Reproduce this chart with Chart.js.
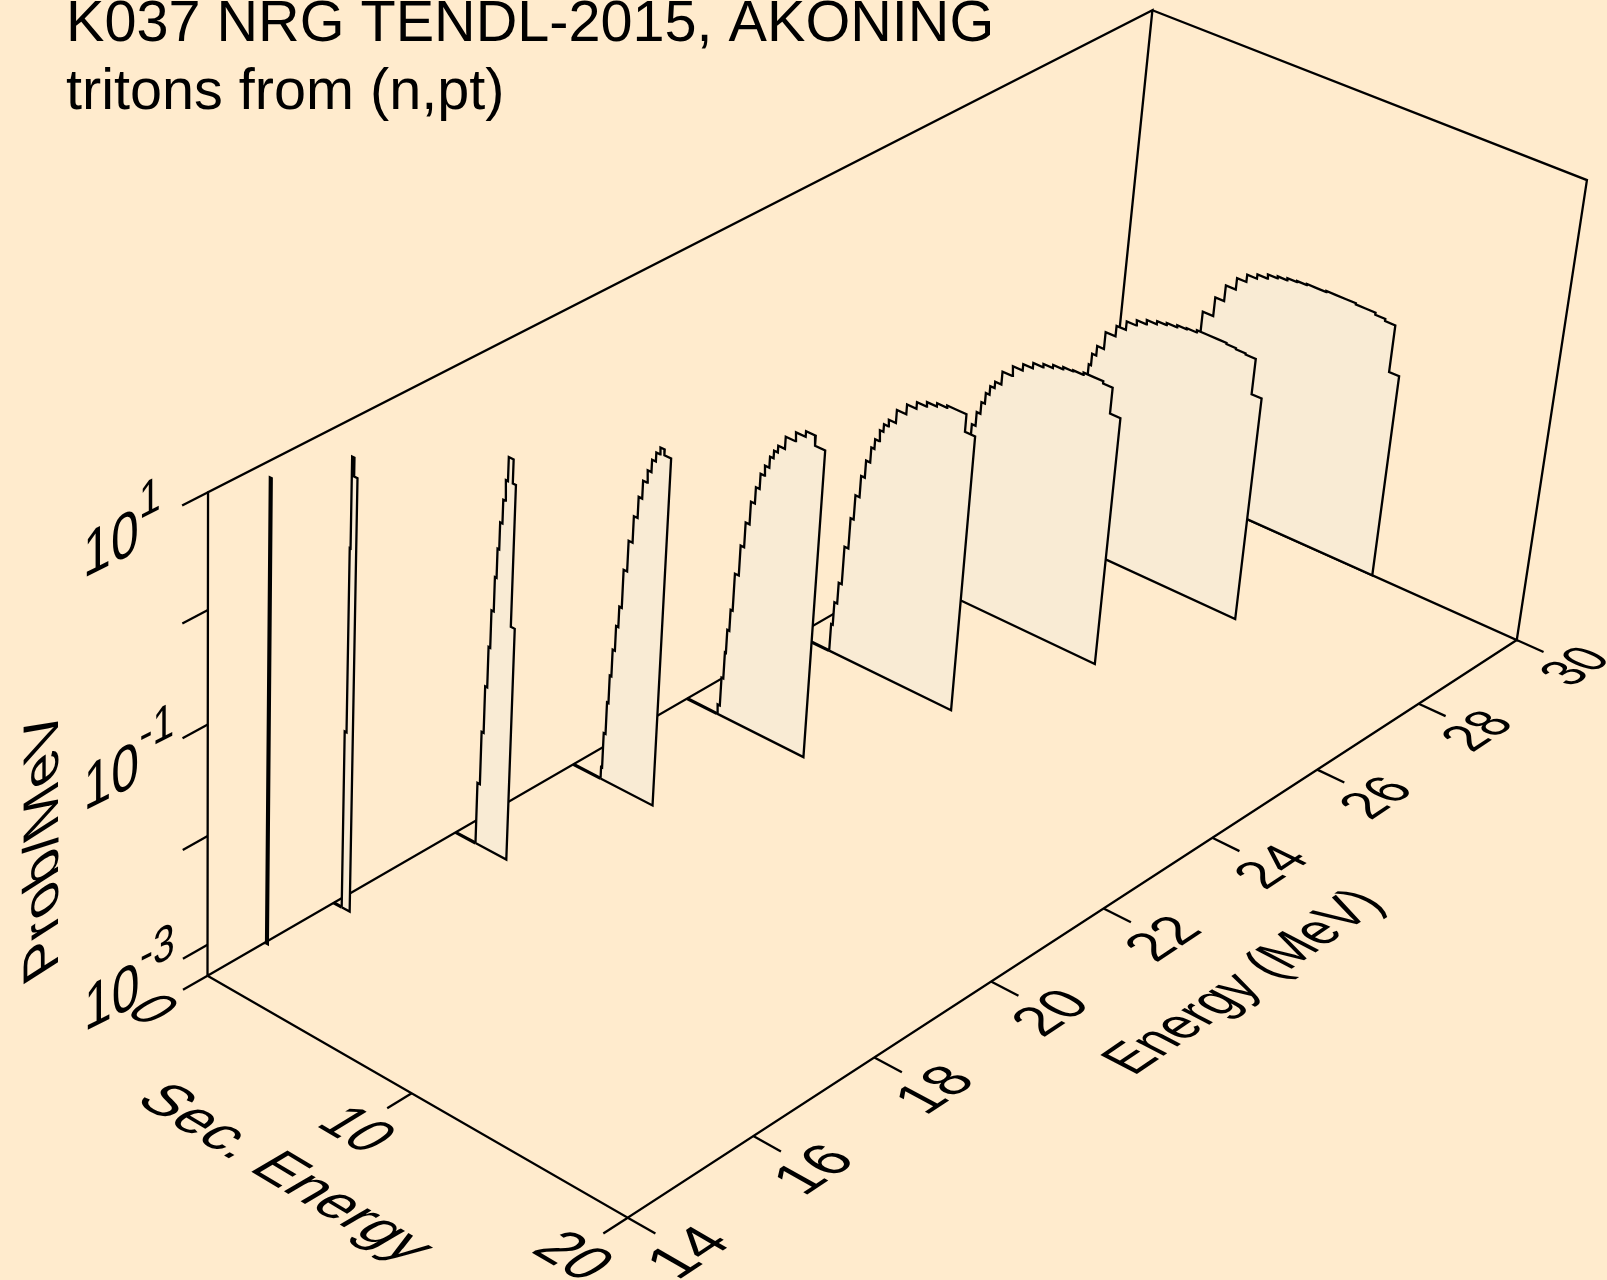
<!DOCTYPE html>
<html>
<head>
<meta charset="utf-8">
<title>K037 NRG TENDL-2015</title>
<script src="https://cdn.jsdelivr.net/npm/chart.js@4/dist/chart.umd.js"></script>
<style>
    html, body { margin: 0; padding: 0; background: #FFEBCD; overflow: hidden; }
    canvas { display: block; }
</style>
</head>
<body>
<canvas id="chart" width="1607" height="1280"></canvas>
<script>
// Incident energies (MeV), one spectrum each
const energies = [14.9, 16, 18, 20, 22, 24, 26, 28, 30];

// Secondary energy bin edges (MeV) and log10(prob/MeV) for each spectrum
const es15 = [0.06, 0.15];
const lg15 = [0.87];
const es16 = [0.40, 0.49, 0.53, 0.64, 0.80];
const lg16 = [-1.66, -0.02, 0.77, 0.61];
const es18 = [1.00, 1.12, 1.22, 1.32, 1.40, 1.51, 1.59, 1.67, 1.78, 1.87, 1.97, 2.20, 2.35, 2.54];
const lg18 = [-2.72, -2.23, -1.80, -1.43, -1.09, -0.78, -0.52, -0.28, -0.07, 0.11, 0.32, 0.11, -1.15];
const es20 = [1.37, 1.42, 1.51, 1.58, 1.66, 1.77, 1.88, 2.00, 2.17, 2.36, 2.54, 2.71, 2.90, 3.08, 3.26, 3.44, 3.64, 3.96];
const lg20 = [-3.18, -2.85, -2.55, -2.29, -2.04, -1.81, -1.62, -1.27, -0.99, -0.75, -0.56, -0.40, -0.29, -0.18, -0.10, -0.04, -0.09];
const es22 = [1.51, 1.62, 1.71, 1.76, 1.86, 1.96, 2.15, 2.32, 2.51, 2.70, 2.88, 3.06, 3.27, 3.44, 3.62, 3.94, 4.40, 4.86, 5.32, 5.80];
const lg22 = [-3.20, -2.93, -2.68, -2.46, -2.26, -1.91, -1.63, -1.40, -1.19, -1.04, -0.90, -0.81, -0.71, -0.64, -0.58, -0.47, -0.39, -0.34, -0.43];
const es24 = [1.62, 1.70, 1.84, 1.99, 2.18, 2.33, 2.53, 2.71, 2.91, 3.06, 3.25, 3.42, 3.63, 3.97, 4.42, 4.87, 5.33, 5.80, 6.27, 6.71, 7.18, 7.66];
const lg24 = [-3.03, -2.81, -2.61, -2.25, -1.96, -1.73, -1.53, -1.37, -1.23, -1.14, -1.04, -0.97, -0.91, -0.79, -0.70, -0.64, -0.60, -0.57, -0.55, -0.55, -0.71];
const es26 = [1.70, 1.90, 2.10, 2.30, 2.50, 2.68, 2.86, 3.04, 3.21, 3.39, 3.60, 3.90, 4.36, 4.83, 5.29, 5.76, 6.21, 6.68, 7.15, 7.63, 8.11, 8.56, 9.01, 9.50];
const lg26 = [-3.00, -2.60, -2.30, -2.05, -1.80, -1.60, -1.47, -1.36, -1.26, -1.18, -1.12, -1.00, -0.91, -0.85, -0.80, -0.77, -0.74, -0.72, -0.71, -0.69, -0.69, -0.71, -0.95];
const es28 = [1.80, 2.10, 2.40, 2.70, 3.00, 3.25, 3.36, 3.56, 3.89, 4.37, 4.82, 5.28, 5.74, 6.22, 6.67, 7.16, 7.61, 8.08, 8.55, 9.03, 9.48, 9.93, 10.39, 10.87, 11.34];
const lg28 = [-3.00, -2.50, -2.15, -1.90, -1.70, -1.54, -1.43, -1.34, -1.18, -1.08, -1.00, -0.95, -0.91, -0.88, -0.86, -0.84, -0.83, -0.81, -0.81, -0.81, -0.82, -0.83, -0.84, -1.17];
const es30 = [2.10, 2.50, 2.90, 3.30, 3.60, 3.87, 4.38, 4.81, 5.29, 5.74, 6.21, 6.69, 7.15, 7.60, 8.06, 8.52, 8.98, 9.44, 9.90, 10.37, 10.83, 11.29, 11.76, 12.23, 12.71, 13.18];
const lg30 = [-3.00, -2.60, -2.30, -2.05, -1.90, -1.53, -1.35, -1.20, -1.09, -1.02, -0.98, -0.94, -0.92, -0.90, -0.89, -0.88, -0.88, -0.87, -0.87, -0.87, -0.88, -0.88, -0.90, -0.92, -1.36];

const edges = [es15, es16, es18, es20, es22, es24, es26, es28, es30];
const logProbs = [lg15, lg16, lg18, lg20, lg22, lg24, lg26, lg28, lg30];

// Axis ranges and ticks
const E_MIN = 14, E_MAX = 30, ES_MIN = 0, ES_MAX = 20, LG_MIN = -3.29, LG_MAX = 1;
const energyTicks = [14, 16, 18, 20, 22, 24, 26, 28, 30];
const secTicks = [0, 10, 20];
const logTicks = [-3, -2, -1, 0, 1];
const logLabels = { '-3': '-3', '-1': '-1', '1': '1' };

const titleLines = ['K037 NRG TENDL-2015, AKONING', 'tritons from (n,pt)'];

const PANEL = '#F9EBD4';
const FONT = '"Liberation Sans", Arial, sans-serif';
const LINE = 2.3;

// Perspective camera of the 3D box: (E, Es, log P) to page position
const CAM = {
    x: [207.5, 1057.8, 385.7, -10.9],
    y: [975.7, -454.1, 175.0, -510.5],
    w: [1, 0.1435, -0.055, -0.055]
};

function project(E, Es, lg) {
    const u = (E - E_MIN) / (E_MAX - E_MIN);
    const v = (Es - ES_MIN) / (ES_MAX - ES_MIN);
    const t = (lg - LG_MIN) / (LG_MAX - LG_MIN);
    const d = CAM.w[0] + CAM.w[1] * u + CAM.w[2] * v + CAM.w[3] * t;
    return {
        x: (CAM.x[0] + CAM.x[1] * u + CAM.x[2] * v + CAM.x[3] * t) / d,
        y: (CAM.y[0] + CAM.y[1] * u + CAM.y[2] * v + CAM.y[3] * t) / d
    };
}

function lineSet(points, order, width) {
    return {
        data: points.map(p => project(p[0], p[1], p[2])),
        showLine: true,
        borderColor: '#000',
        borderWidth: width || LINE,
        borderJoinStyle: 'miter',
        pointRadius: 0,
        fill: false,
        tension: 0,
        order
    };
}

// The steps of one spectrum, closed along the floor
function panelPoints(E, es, lg) {
    const pts = [[E, es[0], LG_MIN]];
    lg.forEach((val, i) => {
        pts.push([E, es[i], val]);
        pts.push([E, es[i + 1], val]);
    });
    pts.push([E, es[es.length - 1], LG_MIN]);
    pts.push([E, es[0], LG_MIN]);
    return pts;
}

function buildDatasets() {
    const sets = [];
    const frame = 100;

    // box edges
    sets.push(lineSet([[E_MIN, 0, LG_MIN], [E_MIN, 0, LG_MAX], [E_MAX, 0, LG_MAX], [E_MAX, 0, LG_MIN], [E_MIN, 0, LG_MIN]], frame));
    sets.push(lineSet([[E_MAX, 0, LG_MAX], [E_MAX, ES_MAX, LG_MAX], [E_MAX, ES_MAX, LG_MIN], [E_MAX, 0, LG_MIN]], frame));
    sets.push(lineSet([[E_MIN, 0, LG_MIN], [E_MIN, ES_MAX, LG_MIN], [E_MAX, ES_MAX, LG_MIN]], frame));

    // tick marks
    logTicks.forEach(d => sets.push(lineSet([[E_MIN, 0, d], [13.62, 0, d]], frame)));
    secTicks.forEach(s => sets.push(lineSet([[E_MIN, s, LG_MIN], [13.62, s, LG_MIN]], frame)));
    energyTicks.forEach(e => sets.push(lineSet([[e, ES_MAX, LG_MIN], [e, 21.24, LG_MIN]], frame)));

    // spectra, nearest on top
    energies.forEach((E, i) => {
        const set = lineSet(panelPoints(E, edges[i], logProbs[i]), i + 1);
        set.fill = 'shape';
        set.backgroundColor = PANEL;
        sets.push(set);
        sets.push(lineSet([[E, 0, LG_MIN], [E, edges[i][0], LG_MIN]], i + 1, 3.2));
    });
    return sets;
}

// Text lying in a plane of the box: run = page vector per em along the baseline, drop = per em downwards
function planeText(ctx, text, x, y, run, drop, align) {
    ctx.save();
    ctx.transform(run[0] / 100, run[1] / 100, drop[0] / 100, drop[1] / 100, x, y);
    ctx.font = '100px ' + FONT;
    ctx.textAlign = align || 'left';
    ctx.textBaseline = 'alphabetic';
    ctx.fillStyle = '#000';
    ctx.fillText(text, 0, 0);
    ctx.restore();
}

function floorVector(E, Es, dE, dEs) {
    const a = project(E, Es, LG_MIN);
    const b = project(E + dE, Es + dEs, LG_MIN);
    return [b.x - a.x, b.y - a.y];
}

const labelsPlugin = {
    id: 'labels',
    afterDraw(chart) {
        const ctx = chart.ctx;

        // top title
        ctx.save();
        ctx.font = '57.6px ' + FONT;
        ctx.fillStyle = '#000';
        ctx.textBaseline = 'alphabetic';
        ctx.fillText(titleLines[0], 66, 41);
        ctx.fillText(titleLines[1], 66, 109);
        ctx.restore();

        // log axis labels
        logTicks.forEach(d => {
            if (logLabels[d] === undefined) return;
            const end = project(13.62, 0, d);
            const x = end.x - 99, y = end.y + 73;
            planeText(ctx, '10', x, y, [50, -25], [0, 64]);
            planeText(ctx, logLabels[d], x + 56, y - 59, [39, -19.5], [0, 50]);
        });
        planeText(ctx, 'Prob/MeV', 58, 967, [0, -59], [50, -32]);

        // secondary energy axis
        secTicks.forEach(s => {
            const p = project(12.86, s + 0.1, LG_MIN);
            const run = floorVector(12.86, s, 0, 2.15);
            const up = floorVector(12.86, s, 0.82, 0);
            planeText(ctx, String(s), p.x, p.y, run, [-up[0], -up[1]], 'center');
        });
        const sp = project(11.8, 3.5, LG_MIN);
        planeText(ctx, 'Sec. Energy', sp.x, sp.y, floorVector(11.8, 3.5, 0, 2.45), floorVector(11.8, 3.5, -0.78, 0));

        // incident energy axis
        energyTicks.forEach(e => {
            const p = project(e, 23.45, LG_MIN);
            const run = floorVector(e, 23.45, 0.8, 0);
            const up = floorVector(e, 23.45, 0, -2.35);
            planeText(ctx, String(e), p.x, p.y, run, [-up[0], -up[1]], 'center');
        });
        const ep = project(19.7, 27.1, LG_MIN);
        planeText(ctx, 'Energy (MeV)', ep.x, ep.y, floorVector(19.7, 27.1, 0.72, 0), floorVector(19.7, 27.1, 0, 2.3));
    }
};

new Chart(document.getElementById('chart'), {
    type: 'scatter',
    data: { datasets: buildDatasets() },
    options: {
        responsive: false,
        animation: false,
        devicePixelRatio: 1,
        layout: { padding: 0 },
        plugins: {
            legend: { display: false },
            tooltip: { enabled: false },
            title: { display: false }
        },
        scales: {
            x: { type: 'linear', display: false, min: 0, max: 1607 },
            y: { type: 'linear', display: false, min: 0, max: 1280, reverse: true }
        }
    },
    plugins: [labelsPlugin]
});
</script>
</body>
</html>
